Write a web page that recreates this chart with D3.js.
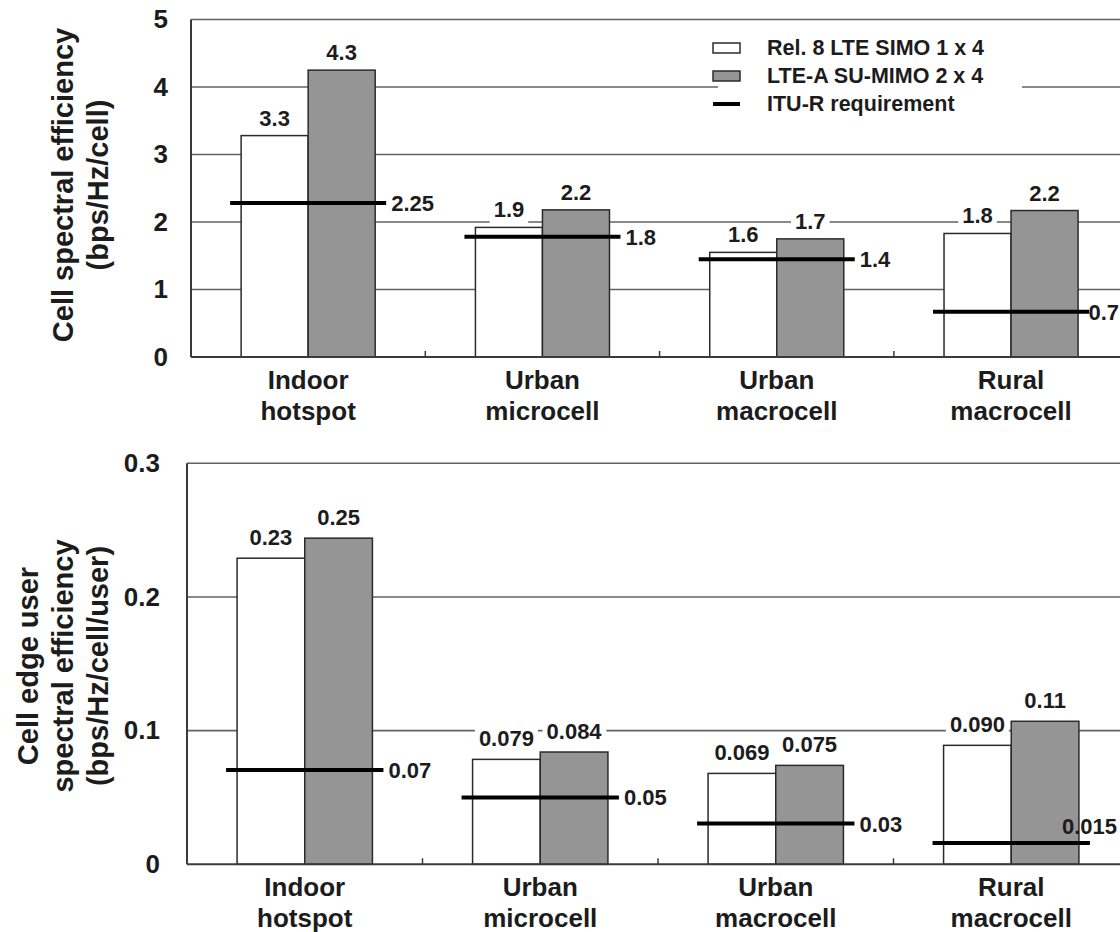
<!DOCTYPE html>
<html>
<head>
<meta charset="utf-8">
<script src="https://cdn.jsdelivr.net/npm/d3@7"></script>
<style>
  body { margin: 0; background: #fff; }
  svg text { font-family: "Liberation Sans", Arial, sans-serif; font-weight: bold; fill: #1c1c1c; }
</style>
</head>
<body>
<div id="chart"></div>
<script>
// categories and series
const categories = ["Indoor hotspot", "Urban microcell", "Urban macrocell", "Rural macrocell"];
const seriesNames = ["Rel. 8 LTE SIMO 1 x 4", "LTE-A SU-MIMO 2 x 4", "ITU-R requirement"];

// upper panel: cell spectral efficiency (bps/Hz/cell)
const cellRel8 = [3.28, 1.92, 1.55, 1.83];
const cellLteA = [4.25, 2.18, 1.75, 2.17];
const cellItu = [2.28, 1.78, 1.45, 0.67];
const cellRel8Labels = ["3.3", "1.9", "1.6", "1.8"];
const cellLteALabels = ["4.3", "2.2", "1.7", "2.2"];
const cellItuLabels = ["2.25", "1.8", "1.4", "0.7"];
const cellTicks = [0, 1, 2, 3, 4, 5];

// lower panel: cell edge user spectral efficiency (bps/Hz/cell/user)
const edgeRel8 = [0.229, 0.0785, 0.068, 0.089];
const edgeLteA = [0.244, 0.084, 0.074, 0.107];
const edgeItu = [0.0705, 0.05, 0.0305, 0.016];
const edgeRel8Labels = ["0.23", "0.079", "0.069", "0.090"];
const edgeLteALabels = ["0.25", "0.084", "0.075", "0.11"];
const edgeItuLabels = ["0.07", "0.05", "0.03", "0.015"];
const edgeTicks = [0, 0.1, 0.2, 0.3];

const W = 1120, H = 932;
const gridColor = "#626262";
const barStroke = "#2b2b2b";
const grayFill = "#959595";

const svg = d3.select("#chart").append("svg")
  .attr("width", W).attr("height", H)
  .style("display", "block");

function drawPanel(opt) {
  const x = d3.scaleBand()
    .domain(categories)
    .range([opt.left, opt.left + opt.step * categories.length]);
  const x1 = d3.scaleBand()
    .domain(["rel8", "ltea"])
    .range([0, x.bandwidth()])
    .paddingOuter(opt.outer);
  const y = d3.scaleLinear().domain(opt.domain).range([opt.bottom, opt.top]);

  const rows = categories.map((c, i) => ({
    cat: c, rel8: opt.rel8[i], ltea: opt.ltea[i], itu: opt.itu[i],
    rel8Label: opt.rel8Labels[i], lteaLabel: opt.lteaLabels[i], ituLabel: opt.ituLabels[i]
  }));

  const gGrid = svg.append("g");
  const gBg = svg.append("g");
  const gBars = svg.append("g");
  const gAxis = svg.append("g");
  const gText = svg.append("g");

  // horizontal grid lines
  gGrid.selectAll("line")
    .data(opt.ticks.filter(d => d > 0))
    .enter().append("line")
    .attr("x1", opt.left).attr("x2", W)
    .attr("y1", d => y(d)).attr("y2", d => y(d))
    .attr("stroke", gridColor).attr("stroke-width", 1.6);

  // bars
  const groups = gBars.selectAll("g.grp")
    .data(rows).enter().append("g")
    .attr("transform", d => `translate(${x(d.cat)},0)`);

  groups.append("rect")
    .attr("x", x1("rel8")).attr("width", x1.bandwidth())
    .attr("y", d => y(d.rel8)).attr("height", d => y(0) - y(d.rel8))
    .attr("fill", "#fff").attr("stroke", barStroke).attr("stroke-width", 1.5);
  groups.append("rect")
    .attr("x", x1("ltea")).attr("width", x1.bandwidth())
    .attr("y", d => y(d.ltea)).attr("height", d => y(0) - y(d.ltea))
    .attr("fill", grayFill).attr("stroke", barStroke).attr("stroke-width", 1.5);

  // requirement lines
  const ext = 11;
  groups.append("line")
    .attr("x1", x1("rel8") - ext)
    .attr("x2", x1("ltea") + x1.bandwidth() + ext)
    .attr("y1", d => y(d.itu)).attr("y2", d => y(d.itu))
    .attr("stroke", "#000").attr("stroke-width", 4);

  // axes lines
  gAxis.append("line")
    .attr("x1", opt.left).attr("x2", W)
    .attr("y1", y(0)).attr("y2", y(0))
    .attr("stroke", "#3a3a3a").attr("stroke-width", 2);
  gAxis.append("line")
    .attr("x1", opt.left).attr("x2", opt.left)
    .attr("y1", y(opt.domain[1])).attr("y2", y(0))
    .attr("stroke", "#3a3a3a").attr("stroke-width", 2);
  gAxis.selectAll("line.sep")
    .data(categories.slice(1)).enter().append("line")
    .attr("x1", d => x(d)).attr("x2", d => x(d))
    .attr("y1", y(0)).attr("y2", y(0) - 6)
    .attr("stroke", "#3a3a3a").attr("stroke-width", 1.5);

  // y tick labels
  const yAxis = gText.append("g")
    .attr("transform", `translate(${opt.left},0)`)
    .call(d3.axisLeft(y).tickValues(opt.ticks).tickSize(0).tickPadding(opt.tickPad).tickFormat(opt.fmt));
  yAxis.select(".domain").remove();
  yAxis.selectAll("text")
    .style("font-size", "26px")
    .style("font-family", "'Liberation Sans', Arial, sans-serif")
    .style("font-weight", "bold")
    .attr("fill", "#1c1c1c");

  // category labels (two lines)
  const cat = gText.selectAll("text.cat")
    .data(categories).enter().append("text")
    .attr("class", "cat")
    .attr("x", d => x(d) + x.bandwidth() / 2)
    .attr("y", y(0) + 32)
    .attr("text-anchor", "middle")
    .style("font-size", "26px");
  cat.append("tspan").attr("x", d => x(d) + x.bandwidth() / 2).text(d => d.split(" ")[0]);
  cat.append("tspan").attr("x", d => x(d) + x.bandwidth() / 2).attr("dy", 31).text(d => d.split(" ")[1]);

  // axis title
  const title = gText.append("text")
    .attr("transform", `translate(${opt.titleX},${opt.titleY}) rotate(-90)`)
    .attr("text-anchor", "middle")
    .style("font-size", "29px");
  opt.title.forEach((t, i) => {
    title.append("tspan").attr("x", 0).attr("y", (i - opt.title.length + 1) * 35).text(t);
  });

  // value labels with white knock-out backgrounds
  function addLabel(tx, ty, str, anchor, withBg) {
    const t = gText.append("text")
      .attr("x", tx).attr("y", ty)
      .attr("text-anchor", anchor)
      .style("font-size", "22px")
      .text(str);
    let b = t.node().getBBox();
    if (b.x + b.width > W - 1) {
      t.attr("x", tx - (b.x + b.width - (W - 1)));
      b = t.node().getBBox();
    }
    if (withBg) {
      gBg.append("rect")
        .attr("x", b.x - 4).attr("y", b.y + 1)
        .attr("width", b.width + 8).attr("height", b.height + 2)
        .attr("fill", "#fff");
    }
  }

  rows.forEach((d, i) => {
    const x0 = x(d.cat);
    addLabel(x0 + x1("rel8") + x1.bandwidth() / 2, y(d.rel8) - opt.gap, d.rel8Label, "middle", true);
    addLabel(x0 + x1("ltea") + x1.bandwidth() / 2, y(d.ltea) - opt.gap, d.lteaLabel, "middle", true);
    const endX = x0 + x1("ltea") + x1.bandwidth() + ext;
    if (opt.lastAbove && i === rows.length - 1) {
      addLabel(endX - 28, y(d.itu) - 9, d.ituLabel, "start", false);
    } else {
      addLabel(endX + 5, y(d.itu) + 8, d.ituLabel, "start", true);
    }
  });
}

// upper panel
drawPanel({
  left: 191, step: 234.3, outer: 0.748, top: 19.5, bottom: 357,
  domain: [0, 5], ticks: cellTicks, fmt: d3.format("d"), tickPad: 23,
  rel8: cellRel8, ltea: cellLteA, itu: cellItu,
  rel8Labels: cellRel8Labels, lteaLabels: cellLteALabels, ituLabels: cellItuLabels,
  gap: 10, title: ["Cell spectral efficiency", "(bps/Hz/cell)"], titleX: 108, titleY: 185,
  lastAbove: false
});

// lower panel
drawPanel({
  left: 187, step: 235.5, outer: 0.74, top: 463.3, bottom: 864.3,
  domain: [0, 0.3], ticks: edgeTicks, fmt: d => d === 0 ? "0" : d3.format(".1f")(d), tickPad: 27,
  rel8: edgeRel8, ltea: edgeLteA, itu: edgeItu,
  rel8Labels: edgeRel8Labels, lteaLabels: edgeLteALabels, ituLabels: edgeItuLabels,
  gap: 13, title: ["Cell edge user", "spectral efficiency", "(bps/Hz/cell/user)"], titleX: 108, titleY: 666,
  lastAbove: true
});

// legend (upper panel)
const legend = svg.append("g");
legend.append("rect")
  .attr("x", 718).attr("y", 28).attr("width", 304).attr("height", 92)
  .attr("fill", "#fff");
const legendRows = legend.selectAll("g.item")
  .data(seriesNames).enter().append("g")
  .attr("transform", (d, i) => `translate(713,${48 + i * 28})`);
legendRows.filter((d, i) => i < 2).append("rect")
  .attr("x", 0).attr("y", -5).attr("width", 27).attr("height", 10)
  .attr("fill", (d, i) => i === 0 ? "#fff" : grayFill)
  .attr("stroke", barStroke).attr("stroke-width", 1.5);
legendRows.filter((d, i) => i === 2).append("line")
  .attr("x1", 0).attr("x2", 27).attr("y1", 0).attr("y2", 0)
  .attr("stroke", "#000").attr("stroke-width", 4);
legendRows.append("text")
  .attr("x", 54).attr("y", 7)
  .style("font-size", "21.5px")
  .text(d => d);
</script>
</body>
</html>
